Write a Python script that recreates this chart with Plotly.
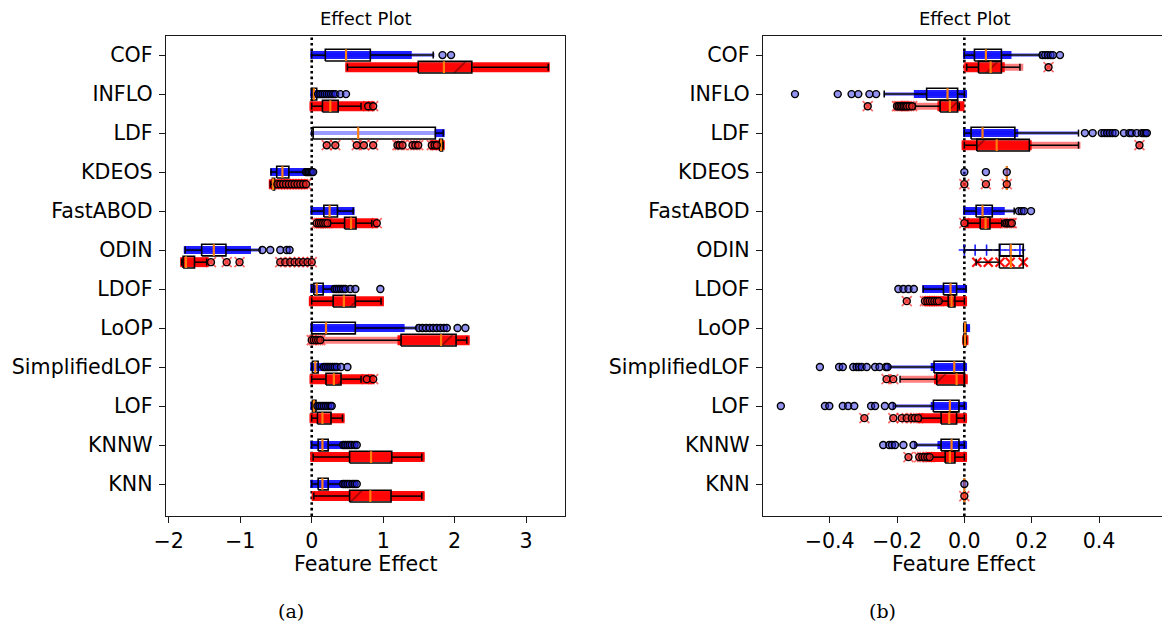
import plotly.graph_objects as go

# ---------------- data ----------------
methods = ["COF", "INFLO", "LDF", "KDEOS", "FastABOD", "ODIN",
           "LDOF", "LoOP", "SimplifiedLOF", "LOF", "KNNW", "KNN"]

# Panel (a) - blue series
a_blue_q1 = [0.19, 0.00, 0.02, -0.49, 0.17, -1.54, 0.03, 0.00, 0.01, 0.01, 0.09, 0.09]
a_blue_med = [0.48, 0.03, 0.65, -0.41, 0.25, -1.37, 0.07, 0.20, 0.05, 0.03, 0.15, 0.15]
a_blue_q3 = [0.82, 0.07, 1.73, -0.32, 0.36, -1.20, 0.16, 0.61, 0.09, 0.06, 0.23, 0.23]
a_blue_wlo = [0.00, 0.00, 0.00, -0.57, 0.00, -1.77, 0.00, 0.00, 0.00, 0.00, 0.00, 0.00]
a_blue_whi = [1.70, 0.07, 1.84, -0.09, 0.58, -0.72, 0.30, 1.47, 0.15, 0.07, 0.42, 0.42]
a_blue_out = [
    [1.83, 1.95],
    [0.09, 0.12, 0.15, 0.18, 0.21, 0.24, 0.27, 0.30, 0.33, 0.40, 0.48],
    [],
    [-0.08, -0.06, -0.04, -0.02, 0.0, 0.02],
    [],
    [-0.69, -0.58, -0.44, -0.35, -0.31],
    [0.32, 0.35, 0.38, 0.41, 0.44, 0.47, 0.54, 0.61, 0.96],
    [1.50, 1.55, 1.60, 1.65, 1.70, 1.75, 1.80, 1.85, 1.89, 2.04, 2.15],
    [0.17, 0.20, 0.23, 0.26, 0.29, 0.32, 0.35, 0.41, 0.50],
    [0.08, 0.11, 0.14, 0.17, 0.20, 0.23, 0.26, 0.28],
    [0.44, 0.47, 0.50, 0.53, 0.56, 0.60, 0.63],
    [0.44, 0.47, 0.50, 0.53, 0.57, 0.60, 0.63],
]
a_blue_pts_lo = [-0.02, -0.02, -0.02, -0.58, -0.02, -1.79, -0.02, -0.02, -0.02, -0.02, -0.02, -0.02]
a_blue_pts_hi = [1.72, 0.33, 1.86, -0.08, 0.60, -0.72, 0.48, 1.47, 0.35, 0.28, 0.63, 0.63]
a_blue_dense_lo = [-0.02, -0.02, 1.72, -0.58, -0.02, -1.79, -0.02, -0.02, -0.02, -0.02, -0.02, -0.02]
a_blue_dense_hi = [1.40, 0.33, 1.86, -0.08, 0.60, -0.85, 0.48, 1.30, 0.35, 0.28, 0.63, 0.63]

# Panel (a) - red series
a_red_q1 = [1.49, 0.15, 1.79, -0.55, 0.46, -1.80, 0.30, 1.25, 0.20, 0.08, 0.53, 0.53]
a_red_med = [1.85, 0.26, 1.81, -0.54, 0.55, -1.76, 0.45, 1.81, 0.31, 0.15, 0.83, 0.82]
a_red_q3 = [2.24, 0.37, 1.83, -0.52, 0.62, -1.64, 0.61, 2.02, 0.41, 0.27, 1.12, 1.11]
a_red_wlo = [0.50, 0.00, 1.78, -0.58, 0.26, -1.82, 0.00, 0.14, 0.00, 0.00, 0.02, 0.03]
a_red_whi = [3.31, 0.69, 1.84, -0.51, 0.84, -1.47, 0.97, 2.17, 0.69, 0.43, 1.54, 1.54]
a_red_out = [
    [],
    [0.79, 0.86],
    [0.21, 0.33, 0.63, 0.73, 0.86, 1.20, 1.23, 1.27, 1.41, 1.45, 1.49, 1.68, 1.72, 1.75],
    [-0.48, -0.44, -0.40, -0.36, -0.32, -0.28, -0.24, -0.20, -0.16, -0.12, -0.08],
    [0.07, 0.10, 0.13, 0.16, 0.19, 0.22, 0.91],
    [-1.41, -1.19, -1.01, -0.44, -0.37, -0.30, -0.24, -0.18, -0.12, -0.06, 0.0],
    [],
    [0.0, 0.03, 0.06, 0.09, 0.12],
    [0.77, 0.86],
    [],
    [],
    [],
]
a_red_pts_lo = [0.47, -0.03, 1.66, -0.60, 0.05, -1.84, -0.04, -0.03, -0.03, -0.03, -0.02, 0.00]
a_red_pts_hi = [3.33, 0.88, 1.86, -0.06, 0.93, -1.44, 1.01, 2.21, 0.88, 0.46, 1.58, 1.58]
a_red_dense_lo = [0.47, -0.03, 1.66, -0.60, 0.05, -1.84, -0.04, 1.20, -0.03, -0.03, -0.02, 0.00]
a_red_dense_hi = [3.33, 0.88, 1.86, -0.06, 0.93, -1.44, 1.01, 2.21, 0.88, 0.46, 1.58, 1.58]

# Panel (b) - blue series
b_blue_q1 = [0.030, -0.112, 0.020, 0.126, 0.035, 0.104, -0.062, 0.000, -0.090, -0.092, -0.069, 0.0]
b_blue_med = [0.064, -0.050, 0.054, 0.126, 0.054, 0.138, -0.041, 0.002, -0.030, -0.043, -0.038, 0.0]
b_blue_q3 = [0.110, -0.020, 0.150, 0.126, 0.083, 0.175, -0.023, 0.004, 0.000, -0.016, -0.016, 0.0]
b_blue_wlo = [0.000, -0.238, 0.000, 0.126, 0.000, 0.000, -0.122, -0.002, -0.226, -0.211, -0.147, 0.0]
b_blue_whi = [0.225, 0.000, 0.339, 0.126, 0.148, 0.175, 0.005, 0.006, 0.000, 0.000, 0.000, 0.0]
b_blue_out = [
    [0.232, 0.240, 0.248, 0.256, 0.263, 0.284],
    [-0.503, -0.376, -0.335, -0.315, -0.282, -0.262],
    [0.358, 0.381, 0.408, 0.416, 0.424, 0.432, 0.440, 0.448, 0.474, 0.490, 0.497,
     0.512, 0.527, 0.533, 0.538, 0.542],
    [0.0, 0.064, 0.126],
    [0.162, 0.170, 0.177, 0.198],
    [],
    [-0.196, -0.181, -0.166, -0.150],
    [],
    [-0.429, -0.372, -0.361, -0.330, -0.320, -0.313, -0.305, -0.290, -0.265, -0.252, -0.233, -0.228],
    [-0.545, -0.414, -0.401, -0.361, -0.345, -0.327, -0.277, -0.265, -0.236, -0.214],
    [-0.241, -0.223, -0.215, -0.206, -0.181, -0.151],
    [0.0],
]
b_blue_pts_lo = [-0.004, -0.240, -0.004, None, -0.004, None, -0.125, -0.004, -0.226, -0.210, -0.147, None]
b_blue_pts_hi = [0.225, 0.008, 0.340, None, 0.150, None, 0.008, 0.017, 0.008, 0.008, 0.008, None]
b_blue_dense_lo = [-0.004, -0.150, -0.004, None, -0.004, None, -0.125, -0.004, -0.100, -0.100, -0.080, None]
b_blue_dense_hi = [0.140, 0.008, 0.160, None, 0.120, None, 0.008, 0.017, 0.008, 0.008, 0.008, None]
b_blue_odin_pts = [0.0, 0.032, 0.066, 0.106, 0.136, 0.165]

# Panel (b) - red series
b_red_q1 = [0.042, -0.072, 0.037, 0.126, 0.047, 0.104, -0.048, -0.001, -0.082, -0.069, -0.057, 0.0]
b_red_med = [0.078, -0.043, 0.096, 0.126, 0.063, 0.138, -0.038, 0.002, -0.023, -0.045, -0.043, 0.0]
b_red_q3 = [0.110, -0.020, 0.193, 0.126, 0.076, 0.175, -0.028, 0.004, 0.000, -0.023, -0.028, 0.0]
b_red_wlo = [0.007, -0.147, 0.000, 0.126, 0.010, 0.035, -0.072, -0.003, -0.191, -0.130, -0.112, 0.0]
b_red_whi = [0.165, -0.015, 0.339, 0.126, 0.111, 0.175, 0.000, 0.006, 0.000, 0.000, 0.000, 0.0]
b_red_out = [
    [0.250],
    [-0.287, -0.200, -0.195, -0.190, -0.185, -0.180, -0.175, -0.170, -0.163, -0.155],
    [0.520],
    [0.0, 0.064, 0.126],
    [0.0, 0.122, 0.127, 0.132, 0.137, 0.141],
    [],
    [-0.171, -0.117, -0.110, -0.103, -0.096, -0.089, -0.082, -0.076],
    [],
    [-0.231, -0.211],
    [-0.297, -0.211, -0.186, -0.171, -0.156, -0.147, -0.137],
    [-0.166, -0.134, -0.125, -0.118, -0.110, -0.103],
    [0.0],
]
b_red_pts_lo = [-0.004, -0.205, -0.008, None, -0.008, None, -0.120, -0.006, -0.190, -0.140, -0.112, -0.004]
b_red_pts_hi = [0.175, 0.000, 0.345, None, 0.145, None, 0.008, 0.012, 0.010, 0.008, 0.008, 0.004]
b_red_dense_lo = [0.000, -0.080, -0.008, None, 0.000, None, -0.120, -0.006, -0.090, -0.140, -0.112, -0.004]
b_red_dense_hi = [0.120, 0.000, 0.200, None, 0.110, None, 0.008, 0.012, 0.010, 0.008, 0.008, 0.004]
b_red_odin_pts = [0.037, 0.071, 0.106, 0.136, 0.175]

# ---------------- styling constants ----------------
BOX_H = 0.30
RED_OFF = 0.31
CAP_H = 0.09
N = len(methods)
W, H = 1162, 623


def px(x):
    return x / W


def py(y):
    return 1 - y / H


fig = go.Figure()


def lines_trace(xs, ys, xa, ya, color, width, dash=None):
    return go.Scatter(x=xs, y=ys, xaxis=xa, yaxis=ya, mode="lines",
                      line=dict(color=color, width=width, dash=dash),
                      hoverinfo="skip", showlegend=False, connectgaps=False)


def add_series(xa, ya, off, q1, med, q3, wlo, whi, outl, plo, phi, dlo, dhi,
               kind, odin_pts):
    pos = [(N - 1 - i) - off for i in range(N)]
    if kind == "blue":
        light_c, dense_c, light_w, dense_w = "rgba(30,30,255,0.45)", "rgba(0,0,255,0.88)", 4, 8
        out_fill = "rgba(40,40,230,0.5)"
    else:
        light_c, dense_c, light_w, dense_w = "rgba(255,0,0,0.50)", "rgba(255,0,0,0.95)", 7, 10
        out_fill = "rgba(235,40,40,0.65)"
    # point bands
    for lo_arr, hi_arr, c, w in ((plo, phi, light_c, light_w), (dlo, dhi, dense_c, dense_w)):
        xs, ys = [], []
        for i in range(N):
            if lo_arr[i] is None:
                continue
            xs += [lo_arr[i], hi_arr[i], None]
            ys += [pos[i], pos[i], None]
        fig.add_trace(lines_trace(xs, ys, xa, ya, c, w))
    # ODIN sparse points (panel b)
    if odin_pts is not None:
        i = methods.index("ODIN")
        if kind == "blue":
            mk = dict(symbol="cross-thin", size=8, line=dict(color="rgba(0,0,255,0.9)", width=1.6))
        else:
            mk = dict(symbol="x-thin", size=9, line=dict(color="rgba(255,0,0,0.95)", width=2.2))
        fig.add_trace(go.Scatter(x=odin_pts, y=[pos[i]] * len(odin_pts), xaxis=xa, yaxis=ya,
                                 mode="markers", marker=mk, hoverinfo="skip", showlegend=False))
    # red crosses behind red outliers
    if kind == "red":
        xs, ys = [], []
        for i in range(N):
            xs += outl[i]
            ys += [pos[i]] * len(outl[i])
        fig.add_trace(go.Scatter(x=xs, y=ys, xaxis=xa, yaxis=ya, mode="markers",
                                 marker=dict(symbol="x-thin", size=10,
                                             line=dict(color="rgba(255,0,0,0.6)", width=1.6)),
                                 hoverinfo="skip", showlegend=False))
    # whiskers + caps
    xs, ys = [], []
    for i in range(N):
        p = pos[i]
        if wlo[i] < q1[i]:
            xs += [wlo[i], q1[i], None]
            ys += [p, p, None]
        if whi[i] > q3[i]:
            xs += [q3[i], whi[i], None]
            ys += [p, p, None]
        for c in (wlo[i], whi[i]):
            xs += [c, c, None]
            ys += [p - CAP_H, p + CAP_H, None]
    fig.add_trace(lines_trace(xs, ys, xa, ya, "black", 1.5))
    # boxes
    xs, ys = [], []
    for i in range(N):
        p = pos[i]
        xs += [q1[i], q3[i], q3[i], q1[i], q1[i], None]
        ys += [p - BOX_H / 2, p - BOX_H / 2, p + BOX_H / 2, p + BOX_H / 2, p - BOX_H / 2, None]
    box_kw = dict(x=xs, y=ys, xaxis=xa, yaxis=ya, mode="lines",
                  line=dict(color="black", width=1.6), hoverinfo="skip",
                  showlegend=False, connectgaps=False)
    if kind == "red":
        box_kw.update(fill="toself", fillcolor="rgba(0,0,0,0)",
                      fillpattern=dict(shape="/", size=46, solidity=0.03,
                                       fgcolor="black", bgcolor="rgba(0,0,0,0)",
                                       fillmode="overlay"))
    fig.add_trace(go.Scatter(**box_kw))
    # medians
    xs, ys = [], []
    for i in range(N):
        p = pos[i]
        xs += [med[i], med[i], None]
        ys += [p - BOX_H / 2, p + BOX_H / 2, None]
    fig.add_trace(lines_trace(xs, ys, xa, ya, "#ff7f0e", 2.2))
    # outliers
    xs, ys = [], []
    for i in range(N):
        xs += outl[i]
        ys += [pos[i]] * len(outl[i])
    fig.add_trace(go.Scatter(x=xs, y=ys, xaxis=xa, yaxis=ya, mode="markers",
                             marker=dict(symbol="circle", size=7, color=out_fill,
                                         line=dict(color="black", width=1.4)),
                             hoverinfo="skip", showlegend=False))


add_series("x", "y", 0.0, a_blue_q1, a_blue_med, a_blue_q3, a_blue_wlo, a_blue_whi, a_blue_out,
           a_blue_pts_lo, a_blue_pts_hi, a_blue_dense_lo, a_blue_dense_hi, "blue", None)
add_series("x", "y", RED_OFF, a_red_q1, a_red_med, a_red_q3, a_red_wlo, a_red_whi, a_red_out,
           a_red_pts_lo, a_red_pts_hi, a_red_dense_lo, a_red_dense_hi, "red", None)
add_series("x2", "y2", 0.0, b_blue_q1, b_blue_med, b_blue_q3, b_blue_wlo, b_blue_whi, b_blue_out,
           b_blue_pts_lo, b_blue_pts_hi, b_blue_dense_lo, b_blue_dense_hi, "blue", b_blue_odin_pts)
add_series("x2", "y2", RED_OFF, b_red_q1, b_red_med, b_red_q3, b_red_wlo, b_red_whi, b_red_out,
           b_red_pts_lo, b_red_pts_hi, b_red_dense_lo, b_red_dense_hi, "red", b_red_odin_pts)

FONT = "DejaVu Sans"
tick_font = dict(family=FONT, size=20.6, color="black")
ycommon = dict(tickmode="array", tickvals=list(range(N)), ticktext=list(reversed(methods)),
               range=[-0.82, 11.49], showgrid=False, zeroline=False, showline=True,
               linecolor="#1a1a1a", linewidth=1.4, ticks="outside", ticklen=6, tickwidth=1.3,
               tickcolor="#1a1a1a", tickfont=tick_font, ticklabelstandoff=2,
               automargin=False, domain=[py(516), py(36)])
xcommon = dict(showgrid=False, zeroline=False, showline=True, linecolor="#1a1a1a",
               linewidth=1.4, ticks="outside", ticklen=6, tickwidth=1.3, tickcolor="#1a1a1a",
               tickfont=tick_font, mirror=True, automargin=False)

fig.update_layout(
    width=W, height=H, margin=dict(l=0, r=0, t=0, b=0, autoexpand=False),
    paper_bgcolor="white", plot_bgcolor="white", showlegend=False,
    xaxis=dict(**xcommon, domain=[px(166), px(565)], range=[-2.039, 3.544],
               tickmode="array", tickvals=[-2, -1, 0, 1, 2, 3],
               ticktext=["\u22122", "\u22121", "0", "1", "2", "3"], anchor="y"),
    yaxis=dict(**ycommon, mirror=True, anchor="x"),
    xaxis2=dict(**xcommon, domain=[px(763), 1.0], range=[-0.598, 0.587],
                tickmode="array", tickvals=[-0.4, -0.2, 0.0, 0.2, 0.4],
                ticktext=["\u22120.4", "\u22120.2", "0.0", "0.2", "0.4"], anchor="y2"),
    yaxis2=dict(**ycommon, mirror=False, anchor="x2"),
)

# dotted zero lines
for xr, yr in (("x", "y domain"), ("x2", "y2 domain")):
    fig.add_shape(type="line", xref=xr, yref=yr, x0=0, x1=0, y0=0, y1=1, layer="below",
                  line=dict(color="black", width=2.6, dash="2.6px,3px"))

annots = [
    ("Effect Plot", 365.5, 19, 18, FONT),
    ("Effect Plot", 964, 19, 18, FONT),
    ("Feature Effect", 365.7, 564, 20.6, FONT),
    ("Feature Effect", 963.7, 564, 20.6, FONT),
    ("(a)", 291, 611, 19, "DejaVu Serif"),
    ("(b)", 882, 611, 19, "DejaVu Serif"),
]
for txt, x, y, s, fam in annots:
    fig.add_annotation(text=txt, x=px(x), y=py(y), xref="paper", yref="paper",
                       showarrow=False, xanchor="center", yanchor="middle",
                       font=dict(family=fam, size=s, color="black"))

fig.write_html("out.html")
